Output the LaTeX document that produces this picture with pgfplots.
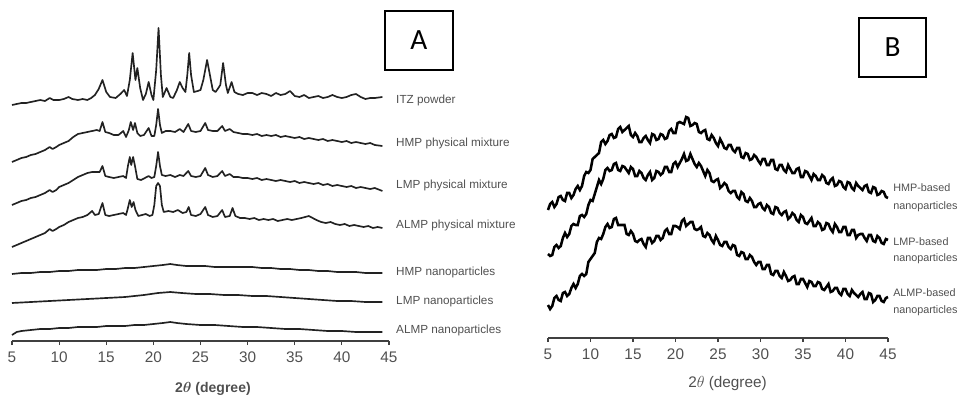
\documentclass[border=0pt]{standalone}
\usepackage{pgfplots}
\pgfplotsset{compat=1.18}
\usepackage{fontspec}
\setmainfont{Liberation Sans}
\newfontfamily\boxfont{Carlito}
\definecolor{txt}{HTML}{505050}
\definecolor{trace}{HTML}{222222}
\begin{document}
\begin{tikzpicture}
\useasboundingbox (0,0) rectangle (717.75pt,-297pt);
\pgfplotsset{
  xrdaxis/.style={
    scale only axis, clip=false,
    xmin=5, xmax=45,
    axis x line=bottom, axis y line=none,
    x axis line style={-, draw=black!75, line width=0.8pt},
    xtick={5,10,...,45},
    tick align=outside, major tick length=3pt,
    every tick/.style={draw=black!75, line width=0.8pt},
    minor tick num=0,
    xticklabel style={font=\fontsize{11.5}{13}\selectfont, text=txt, yshift=-1.5pt},
    /pgf/number format/assume math mode=true,
    y filter/.expression={396-y},
  },
  trA/.style={draw=trace, line width=1.25pt, line join=round},
  trB/.style={draw=black, line width=1.9pt, line join=miter, miter limit=3},
}
% ---------------- Panel A ----------------
\begin{axis}[xrdaxis,
  at={(9pt,-255.75pt)}, anchor=south west,
  width=282.75pt, height=240.75pt,
  ymin=55, ymax=376,
  xlabel={\textbf{2\boldmath$\theta$ (degree)}},
  xlabel style={font=\fontsize{10.5}{12}\selectfont, text=txt, at={(axis description cs:0.533,0)}, anchor=center, yshift=-36pt},
]
% ITZ powder
\addplot[trA] coordinates {(5,105)(5.5,104)(6,103)(6.5,103)(7,102)(7.5,101)(8,100)(8.5,101)(9,98)(9.4,100)(10,100)(10.5,99)(11,97)(11.4,99)(12,100)(12.5,99)(13,100)(13.4,98)(13.8,95)(14.2,89)(14.6,80)(15,92)(15.4,97)(16,98)(16.5,94)(16.9,90)(17.2,96)(17.5,80)(17.8,53)(18.1,80)(18.3,68)(18.6,88)(18.9,100)(19.2,94)(19.5,82)(19.8,95)(20,100)(20.3,70)(20.55,28)(20.8,75)(21,97)(21.4,88)(21.8,97)(22.1,98)(22.5,90)(22.8,82)(23.1,88)(23.4,92)(23.6,75)(23.8,53)(24,75)(24.3,92)(24.7,91)(25,90)(25.3,80)(25.7,60)(26,75)(26.3,90)(26.6,92)(26.9,88)(27.1,85)(27.4,63)(27.7,85)(27.9,93)(28.3,82)(28.6,92)(29,94)(29.5,95)(30,93)(30.5,93)(31,95)(31.5,93)(32,94)(32.5,96)(33,93)(33.5,95)(34,94)(34.5,91)(35,96)(35.5,97)(36,95)(36.5,98)(37,97)(37.5,96)(38,98)(38.5,97)(39,95)(39.5,97)(40,98)(40.5,97)(41,95)(41.5,94)(42,97)(42.5,99)(43,98)(43.5,98)(44.3,97)};
% HMP physical mixture
\addplot[trA] coordinates {(5,162)(5.5,160)(6,158)(6.5,157)(7,155)(7.5,154)(8,152)(8.5,150)(9,147)(9.3,149)(9.7,147)(10,145)(10.5,143)(11,141)(11.5,137)(12,134)(12.5,133)(13,132)(13.5,131)(14,130)(14.3,131)(14.6,122)(14.9,132)(15.3,133)(15.8,135)(16.3,135)(16.8,131)(17.1,137)(17.4,130)(17.6,122)(17.85,130)(18.05,123)(18.3,133)(18.6,136)(19,135)(19.5,128)(19.8,136)(20.1,136)(20.3,125)(20.5,109)(20.7,125)(20.9,133)(21.3,131)(21.8,131)(22.3,132)(22.8,129)(23.2,132)(23.7,124)(24,131)(24.5,132)(25,131)(25.5,123)(25.8,130)(26.3,131)(26.8,131)(27.3,126)(27.6,131)(28.1,129)(28.5,132)(29,133)(29.5,134)(30,134)(30.5,135)(31,134)(31.5,136)(32,135)(32.5,136)(33,135)(33.5,137)(34,136)(34.5,137)(35,138)(35.5,137)(36,139)(36.5,138)(37,139)(37.5,140)(38,139)(38.5,141)(39,140)(39.5,141)(40,142)(40.5,141)(41,143)(41.5,142)(42,143)(42.5,144)(43,143)(43.5,145)(44.3,146)};
% LMP physical mixture
\addplot[trA] coordinates {(5,205)(5.5,203)(6,201)(6.5,200)(7,198)(7.5,197)(8,195)(8.5,193)(9,190)(9.3,192)(9.7,190)(10,187)(10.5,185)(11,183)(11.5,180)(12,177)(12.5,175)(13,173)(13.5,172)(14,172)(14.3,172)(14.6,166)(14.9,176)(15.3,177)(15.8,178)(16.3,177)(16.8,176)(17.1,178)(17.3,166)(17.5,157)(17.65,165)(17.85,157)(18.05,166)(18.3,179)(18.7,180)(19.1,178)(19.5,176)(19.8,178)(20.1,177)(20.3,166)(20.5,152)(20.7,166)(20.9,175)(21.3,176)(21.8,175)(22.3,177)(22.8,175)(23.2,176)(23.7,171)(24,176)(24.5,177)(25,176)(25.5,168)(25.8,175)(26.3,177)(26.8,176)(27.3,171)(27.6,176)(28.1,174)(28.5,177)(29,177)(29.5,178)(30,178)(30.5,179)(31,178)(31.5,180)(32,179)(32.5,180)(33,181)(33.5,180)(34,181)(34.5,182)(35,181)(35.5,183)(36,182)(36.5,183)(37,184)(37.5,183)(38,185)(38.5,184)(39,186)(39.5,185)(40,186)(40.5,187)(41,186)(41.5,188)(42,187)(42.5,188)(43,189)(43.5,188)(44.3,191)};
% ALMP physical mixture
\addplot[trA] coordinates {(5,247)(5.5,245)(6,243)(6.5,241)(7,239)(7.5,237)(8,235)(8.5,233)(9,229)(9.3,231)(9.7,229)(10,227)(10.5,225)(11,222)(11.5,220)(12,218)(12.5,217)(13,215)(13.5,211)(13.8,215)(14.2,214)(14.6,203)(14.9,215)(15.3,216)(15.8,215)(16.3,214)(16.8,213)(17.1,215)(17.3,208)(17.5,200)(17.7,207)(17.9,202)(18.1,210)(18.4,216)(18.8,215)(19.2,214)(19.6,216)(19.9,215)(20.1,205)(20.3,186)(20.5,183)(20.7,186)(20.9,205)(21.1,212)(21.6,211)(22.1,212)(22.6,210)(23.1,213)(23.5,212)(23.75,207)(24,215)(24.5,216)(25,214)(25.5,207)(25.8,215)(26.3,217)(26.8,216)(27.3,210)(27.6,217)(28.1,216)(28.4,208)(28.7,216)(29.2,218)(29.7,218)(30.2,219)(30.7,218)(31.2,220)(31.7,219)(32.2,220)(32.7,219)(33.2,221)(33.7,220)(34.2,219)(34.7,220)(35.2,219)(35.7,218)(36.1,217)(36.5,216)(36.9,218)(37.3,220)(37.8,222)(38.3,223)(38.8,222)(39.3,224)(39.8,225)(40.3,224)(40.8,226)(41.3,225)(41.8,226)(42.3,227)(42.8,226)(43.3,228)(43.8,227)(44.3,228)};
% HMP nanoparticles
\addplot[trA] coordinates {(5,274)(6,273)(7,273)(8,272)(9,272)(10,271)(11,271)(12,270)(13,270)(14,270)(15,269)(16,269)(17,268)(18,268)(19,267)(20,266)(21,265)(21.8,264)(22.5,265)(23.5,266)(24.5,266)(25.5,266)(26.5,267)(27.5,267)(28.5,267)(29.5,267)(30.5,267)(31.5,268)(32.5,268)(33.5,269)(34.5,269)(35.5,270)(36.5,270)(37.5,271)(38.5,271)(39.5,272)(40.5,272)(41.5,272)(42.5,273)(43.5,273)(44.3,273)};
% LMP nanoparticles
\addplot[trA] coordinates {(5,303)(7,302)(9,301)(11,300)(13,299)(15,298)(17,297)(19,295)(20.5,293)(21.8,292)(23,293)(24.5,294)(26,294)(27.5,295)(29,295)(30.5,296)(32,296)(33.5,297)(35,298)(36.5,299)(38,300)(39.5,301)(41,301)(42.5,302)(44.3,302)};
% ALMP nanoparticles
\addplot[trA] coordinates {(5,335)(5.5,332)(6,331)(7,330)(8,329)(9,329)(10,328)(11,328)(12,327)(13,327)(14,327)(15,326)(16,326)(17,326)(18,325)(19,325)(20,324)(21,323)(21.8,322)(22.5,323)(23.5,324)(25,325)(26.5,325)(28,326)(29.5,327)(31,327)(32.5,328)(34,329)(35.5,329)(37,330)(38.5,331)(40,331)(41.5,332)(43,332)(44.3,332)};
% labels
\begin{scope}[every node/.style={anchor=west, inner sep=0pt, text=txt, font=\fontsize{8.8}{10}\selectfont}]
\node at (axis cs:45.74,296) {ITZ powder};
\node at (axis cs:45.74,253) {HMP physical mixture};
\node at (axis cs:45.74,211) {LMP physical mixture};
\node at (axis cs:45.74,171) {ALMP physical mixture};
\node at (axis cs:45.74,124) {HMP nanoparticles};
\node at (axis cs:45.74,95) {LMP nanoparticles};
\node at (axis cs:45.74,66) {ALMP nanoparticles};
\end{scope}
\draw[line width=1.5pt] (axis cs:44.58,385) rectangle (axis cs:51.79,326);
\node[font=\boxfont\fontsize{22}{24}\selectfont] at (axis cs:48.18,355.5) {A};
\end{axis}
% ---------------- Panel B ----------------
\begin{axis}[xrdaxis,
  at={(411pt,-253.5pt)}, anchor=south west,
  width=255pt, height=238.5pt,
  ymin=58, ymax=376,
  xlabel={2$\theta$ (degree)},
  xlabel style={font=\fontsize{11.5}{13}\selectfont, text=txt, at={(axis description cs:0.528,0)}, anchor=center, yshift=-34.5pt},
]
% HMP-based nanoparticles
\addplot[trB] coordinates {(5,210)(5.25,204)(5.5,202)(5.75,207)(6,204)(6.25,197)(6.5,196)(6.75,200)(7,201)(7.25,193)(7.5,193)(7.75,198)(8,195)(8.25,189)(8.5,186)(8.75,190)(9,186)(9.25,176)(9.5,172)(9.75,173)(10,170)(10.25,159)(10.5,157)(10.75,155)(11,153)(11.25,142)(11.5,140)(11.75,144)(12,141)(12.25,135)(12.5,134)(12.75,138)(13,137)(13.25,129)(13.5,127)(13.75,132)(14,130)(14.25,128)(14.5,126)(14.75,135)(15,137)(15.25,133)(15.5,136)(15.75,142)(16,142)(16.25,138)(16.5,136)(16.75,140)(17,143)(17.25,134)(17.5,135)(17.75,140)(18,139)(18.25,134)(18.5,135)(18.75,139)(19,138)(19.25,131)(19.5,129)(19.75,133)(20,133)(20.25,123)(20.5,122)(20.75,123)(21,124)(21.25,117)(21.5,118)(21.75,126)(22,125)(22.25,123)(22.5,124)(22.75,132)(23,133)(23.25,131)(23.5,130)(23.75,139)(24,140)(24.25,135)(24.5,138)(24.75,143)(25,146)(25.25,139)(25.5,143)(25.75,148)(26,149)(26.25,145)(26.5,145)(26.75,150)(27,152)(27.25,148)(27.5,148)(27.75,157)(28,158)(28.25,153)(28.5,154)(28.75,160)(29,159)(29.25,155)(29.5,157)(29.75,161)(30,164)(30.25,159)(30.5,159)(30.75,165)(31,165)(31.25,160)(31.5,160)(31.75,169)(32,170)(32.25,165)(32.5,165)(32.75,170)(33,172)(33.25,165)(33.5,169)(33.75,173)(34,173)(34.25,169)(34.5,168)(34.75,177)(35,177)(35.25,171)(35.5,172)(35.75,176)(36,180)(36.25,174)(36.5,176)(36.75,180)(37,180)(37.25,175)(37.5,177)(37.75,183)(38,184)(38.25,180)(38.5,178)(38.75,186)(39,185)(39.25,181)(39.5,182)(39.75,187)(40,189)(40.25,182)(40.5,183)(40.75,188)(41,190)(41.25,183)(41.5,186)(41.75,188)(42,190)(42.25,186)(42.5,185)(42.75,192)(43,193)(43.25,187)(43.5,188)(43.75,195)(44,194)(44.25,191)(44.5,192)(44.75,197)(45,198)};
% LMP-based nanoparticles
\addplot[trB] coordinates {(5,254)(5.25,256)(5.5,255)(5.75,247)(6,245)(6.25,248)(6.5,246)(6.75,238)(7,233)(7.25,237)(7.5,234)(7.75,226)(8,224)(8.25,225)(8.5,225)(8.75,216)(9,215)(9.25,217)(9.5,214)(9.75,205)(10,200)(10.25,201)(10.5,194)(10.75,187)(11,180)(11.25,184)(11.5,179)(11.75,170)(12,168)(12.25,171)(12.5,170)(12.75,164)(13,163)(13.25,170)(13.5,171)(13.75,166)(14,167)(14.25,170)(14.5,173)(14.75,167)(15,169)(15.25,176)(15.5,176)(15.75,171)(16,173)(16.25,178)(16.5,180)(16.75,175)(17,172)(17.25,180)(17.5,178)(17.75,171)(18,172)(18.25,175)(18.5,173)(18.75,167)(19,167)(19.25,172)(19.5,172)(19.75,164)(20,162)(20.25,167)(20.5,163)(20.75,159)(21,154)(21.25,161)(21.5,160)(21.75,154)(22,159)(22.25,164)(22.5,167)(22.75,163)(23,166)(23.25,171)(23.5,176)(23.75,170)(24,173)(24.25,181)(24.5,182)(24.75,180)(25,179)(25.25,188)(25.5,186)(25.75,183)(26,185)(26.25,191)(26.5,193)(26.75,191)(27,191)(27.25,197)(27.5,199)(27.75,192)(28,194)(28.25,201)(28.5,202)(28.75,198)(29,201)(29.25,207)(29.5,207)(29.75,204)(30,203)(30.25,208)(30.5,210)(30.75,205)(31,207)(31.25,213)(31.5,214)(31.75,207)(32,208)(32.25,213)(32.5,215)(32.75,212)(33,211)(33.25,219)(33.5,217)(33.75,213)(34,215)(34.25,220)(34.5,222)(34.75,215)(35,217)(35.25,223)(35.5,224)(35.75,221)(36,218)(36.25,226)(36.5,226)(36.75,222)(37,224)(37.25,230)(37.5,229)(37.75,223)(38,224)(38.25,229)(38.5,232)(38.75,224)(39,227)(39.25,232)(39.5,232)(39.75,227)(40,227)(40.25,235)(40.5,235)(40.75,230)(41,230)(41.25,238)(41.5,235)(41.75,234)(42,234)(42.25,238)(42.5,241)(42.75,235)(43,235)(43.25,241)(43.5,242)(43.75,236)(44,238)(44.25,243)(44.5,244)(44.75,239)(45,240)};
% ALMP-based nanoparticles
\addplot[trB] coordinates {(5,305)(5.25,309)(5.5,306)(5.75,298)(6,296)(6.25,300)(6.5,301)(6.75,293)(7,292)(7.25,296)(7.5,294)(7.75,288)(8,284)(8.25,288)(8.5,284)(8.75,276)(9,274)(9.25,276)(9.5,274)(9.75,262)(10,259)(10.25,256)(10.5,253)(10.75,242)(11,238)(11.25,239)(11.5,234)(11.75,227)(12,224)(12.25,228)(12.5,227)(12.75,219)(13,218)(13.25,225)(13.5,225)(13.75,225)(14,225)(14.25,234)(14.5,235)(14.75,231)(15,234)(15.25,241)(15.5,242)(15.75,240)(16,239)(16.25,244)(16.5,247)(16.75,238)(17,238)(17.25,243)(17.5,241)(17.75,236)(18,236)(18.25,240)(18.5,238)(18.75,231)(19,229)(19.25,234)(19.5,234)(19.75,226)(20,226)(20.25,227)(20.5,229)(20.75,221)(21,219)(21.25,226)(21.5,224)(21.75,222)(22,222)(22.25,229)(22.5,230)(22.75,229)(23,227)(23.25,236)(23.5,237)(23.75,233)(24,235)(24.25,240)(24.5,243)(24.75,236)(25,240)(25.25,245)(25.5,246)(25.75,242)(26,242)(26.25,247)(26.5,249)(26.75,245)(27,246)(27.25,255)(27.5,256)(27.75,252)(28,253)(28.25,259)(28.5,259)(28.75,255)(29,257)(29.25,262)(29.5,265)(29.75,262)(30,262)(30.25,269)(30.5,269)(30.75,265)(31,265)(31.25,274)(31.5,275)(31.75,271)(32,271)(32.25,276)(32.5,278)(32.75,272)(33,276)(33.25,281)(33.5,280)(33.75,277)(34,276)(34.25,284)(34.5,284)(34.75,279)(35,279)(35.25,283)(35.5,287)(35.75,281)(36,282)(36.25,286)(36.5,286)(36.75,282)(37,283)(37.25,289)(37.5,290)(37.75,287)(38,284)(38.25,292)(38.5,291)(38.75,288)(39,288)(39.25,293)(39.5,295)(39.75,289)(40,289)(40.25,294)(40.5,296)(40.75,290)(41,293)(41.25,295)(41.5,297)(41.75,294)(42,292)(42.25,299)(42.5,299)(42.75,293)(43,294)(43.25,302)(43.5,300)(43.75,296)(44,296)(44.25,301)(44.5,302)(44.75,298)(45,297)};
\begin{scope}[every node/.style={anchor=west, inner sep=0pt, text=txt, font=\fontsize{8.1}{10}\selectfont}]
\node at (axis cs:45.59,208) {HMP-based};
\node at (axis cs:45.59,189) {nanoparticles};
\node at (axis cs:45.59,154) {LMP-based};
\node at (axis cs:45.59,137) {nanoparticles};
\node at (axis cs:45.59,103) {ALMP-based};
\node at (axis cs:45.59,85) {nanoparticles};
\end{scope}
\draw[line width=1.5pt] (axis cs:41.59,378) rectangle (axis cs:49.47,319);
\node[font=\boxfont\fontsize{22}{24}\selectfont] at (axis cs:45.53,348.5) {B};
\end{axis}
\end{tikzpicture}
\end{document}
